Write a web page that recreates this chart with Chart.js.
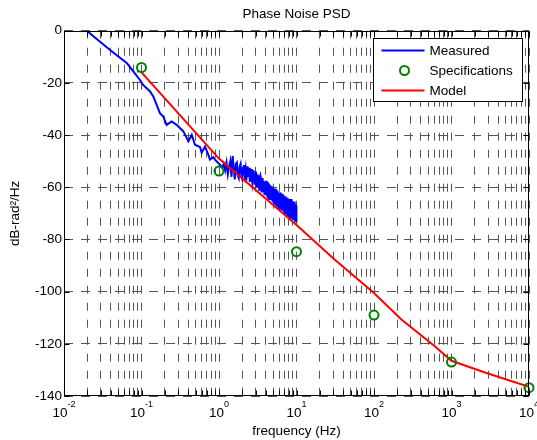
<!DOCTYPE html>
<html>
<head>
<meta charset="utf-8">
<title>Phase Noise PSD</title>
<script src="https://cdn.jsdelivr.net/npm/chart.js@4.4.1/dist/chart.umd.min.js"></script>
<style>
    body { margin: 0; background: #fff; }
    #wrap { width: 537px; height: 440px; }
</style>
</head>
<body>
<div id="wrap"><canvas id="psdChart" width="537" height="440"></canvas></div>
<script>
// --- data ---
const measuredFreq = [0.0196, 0.0393, 0.065, 0.078, 0.0955, 0.105, 0.129, 0.142, 0.173, 0.191,
    0.211, 0.245, 0.284, 0.347, 0.403, 0.445, 0.49, 0.569, 0.598, 0.66,
    0.728, 0.766, 0.843, 0.887, 1.0,
    1.10, 1.15, 1.20, 1.25, 1.30, 1.35, 1.40, 1.45, 1.50, 1.55, 1.60, 1.65, 1.70, 1.75, 1.80, 1.85, 1.90, 1.95, 2.00, 2.05,
    2.10, 2.15, 2.20, 2.25, 2.30, 2.35, 2.40, 2.45, 2.50, 2.55, 2.60, 2.65, 2.70, 2.75, 2.80, 2.85, 2.90, 2.95, 3.00, 3.05,
    3.10, 3.15, 3.20, 3.25, 3.30, 3.35, 3.40, 3.45, 3.50, 3.55, 3.60, 3.65, 3.70, 3.75, 3.80, 3.85, 3.90, 3.95, 4.00, 4.05,
    4.10, 4.15, 4.20, 4.25, 4.30, 4.35, 4.40, 4.45, 4.50, 4.55, 4.60, 4.65, 4.70, 4.75, 4.80, 4.85, 4.90, 4.95, 5.00, 5.05,
    5.10, 5.15, 5.20, 5.25, 5.30, 5.35, 5.40, 5.45, 5.50, 5.55, 5.60, 5.65, 5.70, 5.75, 5.80, 5.85, 5.90, 5.95, 6.00, 6.05,
    6.10, 6.15, 6.20, 6.25, 6.30, 6.35, 6.40, 6.45, 6.50, 6.55, 6.60, 6.65, 6.70, 6.75, 6.80, 6.85, 6.90, 6.95, 7.00, 7.05,
    7.10, 7.15, 7.20, 7.25, 7.30, 7.35, 7.40, 7.45, 7.50, 7.55, 7.60, 7.65, 7.70, 7.75, 7.80, 7.85, 7.90, 7.95, 8.00, 8.05,
    8.10, 8.15, 8.20, 8.25, 8.30, 8.35, 8.40, 8.45, 8.50, 8.55, 8.60, 8.65, 8.70, 8.75, 8.80, 8.85, 8.90, 8.95, 9.00, 9.05,
    9.10, 9.15, 9.20, 9.25, 9.30, 9.35, 9.40, 9.45, 9.50, 9.55, 9.60, 9.65, 9.70, 9.75, 9.80, 9.85, 9.90, 9.95, 10.00];
const measuredDb = [0, -7.4, -12.5, -15.5, -18.9, -20.8, -23.3, -25.2, -31.6, -32.9,
    -36.1, -34.8, -36.1, -38.6, -42.4, -39.9, -43.7, -44.6, -46.8, -44.4,
    -47.5, -49.4, -48.5, -49.4, -51,
    -52.5, -51, -53.5, -50.5, -55, -52, -50, -56, -48, -53, -57, -51, -50.5, -55.5, -56.5, -52, -51, -56, -57, -52.5,
    -51.5, -55, -53, -57.5, -52, -56, -54.5, -52.5, -58, -55, -53, -57, -58.5, -54, -53.5, -56.5, -59, -55.5, -54, -60,
    -56, -55, -59.5, -57.5, -61, -56, -55.5, -60, -58.5, -62, -57, -56.5, -61.5, -59, -57.5, -62.5, -60, -58, -63, -57.5,
    -61, -63.5, -58, -60, -64, -62, -58.5, -64.5, -60, -59, -63, -65, -61, -59.5, -64, -62.5, -60, -65.5, -63, -60.5,
    -66, -61, -63.5, -66.5, -60.5, -64, -67, -62, -61, -66, -64, -67.5, -61.5, -63, -67, -62.5, -65.5, -68, -62, -64,
    -68, -63, -62, -66.5, -68.5, -63.5, -65, -69, -62.5, -67, -64, -69, -66, -63, -68.5, -65.5, -69.5, -63.5, -67, -64.5,
    -70, -64, -66.5, -70.5, -63.5, -68, -65, -70, -67, -64.5, -71, -66, -69, -64, -70.5, -67.5, -65, -71, -68, -64.5,
    -71.5, -66, -68.5, -72, -65, -70, -67, -71.5, -64.5, -69, -72, -66.5, -70.5, -65.5, -71.5, -68, -72, -66, -69.5, -65.5,
    -72, -67, -70, -72.5, -66, -69.5, -72, -67.5, -71, -65.5, -73, -68, -70.5, -66.5, -72.5, -69, -73, -67, -72.5];

const specFreq = [0.1, 1, 10, 100, 1000, 10000];
const specDb = [-14.1, -53.8, -84.7, -109, -127, -136.8];

const modelFreq = [0.1, 1, 10, 31, 100, 224, 603, 1000, 2700, 10000];
const modelDb = [-16, -49, -74.5, -87.7, -100.5, -110.6, -120.8, -126.5, -131, -136.5];

const xDecades = [0.01, 0.1, 1, 10, 100, 1000, 10000];
const xExponents = ['-2', '-1', '0', '1', '2', '3', '4'];
const yTicks = [0, -20, -40, -60, -80, -100, -120, -140];

const seriesNames = ['Measured', 'Specifications', 'Model'];

const FONT = '"Liberation Sans", Arial, Helvetica, sans-serif';
const FSIZE = 13.5;

function toPoints(xs, ys) {
    return xs.map((f, i) => ({ x: f, y: ys[i] }));
}

// --- box, inner ticks, decade labels and legend (MATLAB look) ---
const matlabAxes = {
    id: 'matlabAxes',
    afterDatasetsDraw(chart) {
        const { ctx, chartArea: a, scales } = chart;
        const x = scales.x, y = scales.y;
        const L = Math.round(a.left) + 0.5, R = Math.round(a.right) - 0.5;
        const T = Math.round(a.top) + 0.5, B = Math.round(a.bottom) - 0.5;
        ctx.save();
        ctx.strokeStyle = '#000';
        ctx.lineWidth = 1;
        ctx.beginPath();
        x.ticks.forEach(t => {
            const px = Math.round(x.getPixelForValue(t.value)) + 0.5;
            ctx.moveTo(px, B); ctx.lineTo(px, B - 5);
            ctx.moveTo(px, T); ctx.lineTo(px, T + 5);
        });
        y.ticks.forEach(t => {
            const py = Math.round(y.getPixelForValue(t.value)) + 0.5;
            ctx.moveTo(L, py); ctx.lineTo(L + 5, py);
            ctx.moveTo(R, py); ctx.lineTo(R - 5, py);
        });
        ctx.stroke();
        ctx.strokeRect(L, T, R - L, B - T);

        // x labels 10^n
        ctx.fillStyle = '#000';
        ctx.textBaseline = 'alphabetic';
        ctx.textAlign = 'left';
        xDecades.forEach((d, i) => {
            const px = x.getPixelForValue(d);
            ctx.font = FSIZE + 'px ' + FONT;
            const wBase = ctx.measureText('10').width;
            ctx.font = '9px ' + FONT;
            const wExp = ctx.measureText(xExponents[i]).width;
            const x0 = px - (wBase + wExp) / 2;
            ctx.font = FSIZE + 'px ' + FONT;
            ctx.fillText('10', x0, a.bottom + 20.5);
            ctx.font = '9px ' + FONT;
            ctx.fillText(xExponents[i], x0 + wBase, a.bottom + 11);
        });

        // legend box
        const lw = 149, lh = 63;
        const lx = Math.round(a.right - 156) + 0.5, ly = Math.round(a.top + 7.5) + 0.5;
        ctx.fillStyle = '#fff';
        ctx.fillRect(lx, ly, lw, lh);
        ctx.strokeStyle = '#000';
        ctx.strokeRect(lx, ly, lw, lh);
        ctx.font = FSIZE + 'px ' + FONT;
        ctx.textBaseline = 'middle';
        const sets = chart.data.datasets;
        seriesNames.forEach((name, i) => {
            const cy = ly + 12 + i * 20;
            const ds = sets[i];
            if (ds.showLine === false) {
                ctx.beginPath();
                ctx.arc(lx + 31, cy, ds.pointRadius, 0, Math.PI * 2);
                ctx.strokeStyle = ds.borderColor;
                ctx.lineWidth = ds.pointBorderWidth;
                ctx.stroke();
            } else {
                ctx.beginPath();
                ctx.moveTo(lx + 8, cy);
                ctx.lineTo(lx + 51, cy);
                ctx.strokeStyle = ds.borderColor;
                ctx.lineWidth = ds.borderWidth;
                ctx.stroke();
            }
            ctx.fillStyle = '#000';
            ctx.fillText(name, lx + 56, cy + 0.5);
        });
        ctx.restore();
    }
};

function initChart() {
    const ctx = document.getElementById('psdChart').getContext('2d');
    return new Chart(ctx, {
        type: 'scatter',
        data: {
            datasets: [
                { label: seriesNames[0], data: toPoints(measuredFreq, measuredDb), showLine: true,
                  borderColor: '#0000ff', borderWidth: 2, pointRadius: 0, order: 2 },
                { label: seriesNames[1], data: toPoints(specFreq, specDb), showLine: false,
                  borderColor: '#008000', backgroundColor: 'rgba(0,0,0,0)', pointRadius: 4.5,
                  pointBorderWidth: 2, borderWidth: 2, order: 0, clip: false },
                { label: seriesNames[2], data: toPoints(modelFreq, modelDb), showLine: true,
                  borderColor: '#ff0000', borderWidth: 2, pointRadius: 0, order: 1 }
            ]
        },
        options: {
            responsive: false,
            animation: false,
            devicePixelRatio: 1,
            events: [],
            layout: { padding: { left: 0, right: 8, top: 0, bottom: 0 } },
            plugins: {
                legend: { display: false },
                tooltip: { enabled: false },
                title: {
                    display: true, text: 'Phase Noise PSD', fullSize: false, color: '#000',
                    font: { family: FONT, size: FSIZE, weight: 'normal' },
                    padding: { top: 6, bottom: 8.5 }
                }
            },
            scales: {
                x: {
                    type: 'logarithmic', min: 0.01, max: 10000,
                    afterBuildTicks(scale) {
                        const ticks = [];
                        xDecades.forEach(d => {
                            for (let m = 1; m <= 9; m++) {
                                if (d * m <= 10000) ticks.push({ value: d * m, major: m === 1 });
                            }
                        });
                        scale.ticks = ticks;
                    },
                    afterFit(scale) { scale.height = 44; },
                    ticks: { display: false },
                    grid: { color: '#555', lineWidth: 1, drawTicks: false },
                    border: { display: false, dash: [8, 9] },
                    title: {
                        display: true, text: 'frequency (Hz)', color: '#000',
                        font: { family: FONT, size: FSIZE }, padding: { top: 0, bottom: 1 }
                    }
                },
                y: {
                    min: -140, max: 0,
                    afterBuildTicks(scale) {
                        scale.ticks = yTicks.map(v => ({ value: v }));
                    },
                    afterFit(scale) { scale.width = 64; },
                    ticks: { color: '#000', padding: 2, font: { family: FONT, size: FSIZE } },
                    grid: { color: '#555', lineWidth: 1, drawTicks: false },
                    border: { display: false, dash: [9, 8] },
                    title: {
                        display: true, text: 'dB-rad²/Hz', color: '#000',
                        font: { family: FONT, size: FSIZE }, padding: { top: 7, bottom: 0 }
                    }
                }
            }
        },
        plugins: [matlabAxes]
    });
}

document.addEventListener('DOMContentLoaded', () => {
    initChart();
});
</script>
</body>
</html>
